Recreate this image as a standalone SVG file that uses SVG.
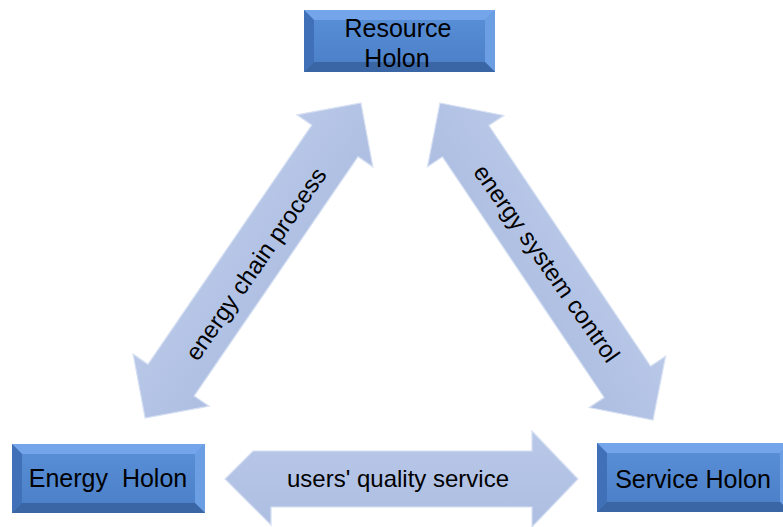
<svg xmlns="http://www.w3.org/2000/svg" width="783" height="527" viewBox="0 0 783 527">
  <defs>
    <linearGradient id="face" x1="0" y1="0" x2="0" y2="1">
      <stop offset="0" stop-color="#5a90d8"/>
      <stop offset="1" stop-color="#4a7fc8"/>
    </linearGradient>
    <linearGradient id="arrowFill" x1="0" y1="0" x2="0" y2="1">
      <stop offset="0" stop-color="#b9c8e8"/>
      <stop offset="1" stop-color="#adbee2"/>
    </linearGradient>
    <style>
      .lbl { font-family: "Liberation Sans", Arial, sans-serif; font-size: 24px; fill: #000; }
      .box { font-size: 25px; }
      .arrow { fill: url(#arrowFill); stroke: #d6e0f2; stroke-width: 1.2; }
      .bt { fill: #74a4ea; }
      .bl { fill: #3f70b8; }
      .br { fill: #6c9ee4; }
      .bb { fill: #3a66a6; }
      .face { fill: url(#face); }
    </style>
  </defs>

  <g id="connectors">
    <g id="arrow-energy-chain">
      <polygon class="arrow" transform="translate(253,260.5) rotate(-55.6)" points="-191,0 -145,-46 -145,-28 145,-28 145,-46 191,0 145,46 145,28 -145,28 -145,46"/>
      <text class="lbl" text-anchor="middle" transform="translate(256,264) rotate(-55.3)" x="0" y="8">energy chain process</text>
    </g>
    <g id="arrow-energy-system">
      <polygon class="arrow" transform="translate(546.5,261.5) rotate(56.1)" points="-191,0 -145,-46 -145,-28 145,-28 145,-46 191,0 145,46 145,28 -145,28 -145,46"/>
      <text class="lbl" text-anchor="middle" transform="translate(546.5,263.5) rotate(55)" x="0" y="8">energy system control</text>
    </g>
    <g id="arrow-users-quality">
      <polygon class="arrow" points="225,479 253,451 532,451 532,431 578,479 532,527 532,507 271,507 271,525"/>
      <text class="lbl" text-anchor="middle" x="398" y="487">users' quality service</text>
    </g>
  </g>

  <g id="resource-holon">
    <rect x="304" y="10" width="191" height="62" class="face"/>
    <polygon class="bt" points="304,10 495,10 485,20 314,20"/>
    <polygon class="bl" points="304,10 314,20 314,62 304,72"/>
    <polygon class="br" points="495,10 495,72 485,62 485,20"/>
    <polygon class="bb" points="304,72 314,62 485,62 495,72"/>
    <text class="lbl box" text-anchor="middle" x="398" y="37">Resource</text>
    <text class="lbl box" text-anchor="middle" x="397" y="67">Holon</text>
  </g>

  <g id="energy-holon">
    <rect x="12" y="444" width="193" height="69" class="face"/>
    <polygon class="bt" points="12,444 205,444 195,454 22,454"/>
    <polygon class="bl" points="12,444 22,454 22,503 12,513"/>
    <polygon class="br" points="205,444 205,513 195,503 195,454"/>
    <polygon class="bb" points="12,513 22,503 195,503 205,513"/>
    <text class="lbl box" text-anchor="middle" x="108" y="487" xml:space="preserve">Energy  Holon</text>
  </g>

  <g id="service-holon">
    <rect x="597" y="443" width="193" height="69" class="face"/>
    <polygon class="bt" points="597,443 790,443 780,453 607,453"/>
    <polygon class="bl" points="597,443 607,453 607,502 597,512"/>
    <polygon class="br" points="790,443 790,512 780,502 780,453"/>
    <polygon class="bb" points="597,512 607,502 780,502 790,512"/>
    <text class="lbl box" text-anchor="middle" x="693" y="488">Service Holon</text>
  </g>
</svg>
